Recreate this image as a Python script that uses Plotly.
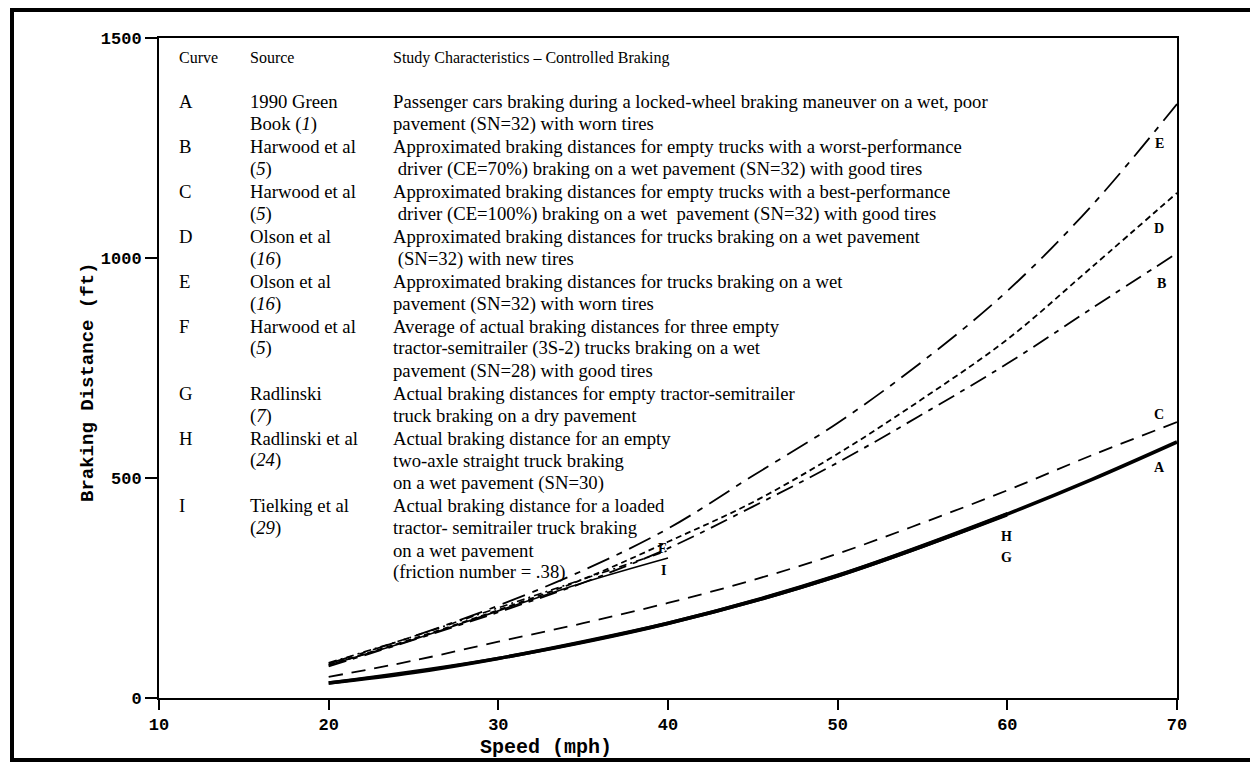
import plotly.graph_objects as go

# ---------------- data ----------------
speed_full = [20, 25, 30, 35, 40, 45, 50, 55, 60, 65, 70]
curve_A = [34, 58, 90, 128, 170, 220, 278, 345, 418, 497, 582]
curve_B = [72, 132, 195, 262, 340, 435, 535, 645, 760, 886, 1011]
curve_C = [48, 85, 128, 170, 216, 268, 328, 398, 472, 552, 627]
curve_D = [75, 135, 200, 270, 355, 445, 555, 680, 815, 980, 1148]
curve_E = [78, 140, 210, 290, 385, 505, 625, 765, 925, 1120, 1350]

speed_to40 = [20, 25, 30, 35, 40]
curve_F = [80, 140, 205, 270, 335]
curve_I = [75, 133, 198, 262, 318]

speed_to60 = [20, 30, 40, 50, 60]
curve_G = [32, 88, 167, 275, 414]
curve_H = [36, 92, 172, 281, 421]

x_ticks = [10, 20, 30, 40, 50, 60, 70]
y_ticks = [0, 500, 1000, 1500]

header = ("Curve", "Source", "Study Characteristics \u2013 Controlled Braking")
table_lines = [
    ("A", "1990 Green", "Passenger cars braking during a locked-wheel braking maneuver on a wet, poor"),
    ("", "Book (<i>1</i>)", "pavement (SN=32) with worn tires"),
    ("B", "Harwood et al", "Approximated braking distances for empty trucks with a worst-performance"),
    ("", "(<i>5</i>)", " driver (CE=70%) braking on a wet pavement (SN=32) with good tires"),
    ("C", "Harwood et al", "Approximated braking distances for empty trucks with a best-performance"),
    ("", "(<i>5</i>)", " driver (CE=100%) braking on a wet  pavement (SN=32) with good tires"),
    ("D", "Olson et al", "Approximated braking distances for trucks braking on a wet pavement"),
    ("", "(<i>16</i>)", " (SN=32) with new tires"),
    ("E", "Olson et al", "Approximated braking distances for trucks braking on a wet"),
    ("", "(<i>16</i>)", "pavement (SN=32) with worn tires"),
    ("F", "Harwood et al", "Average of actual braking distances for three empty"),
    ("", "(<i>5</i>)", "tractor-semitrailer (3S-2) trucks braking on a wet"),
    ("", "", "pavement (SN=28) with good tires"),
    ("G", "Radlinski", "Actual braking distances for empty tractor-semitrailer"),
    ("", "(<i>7</i>)", "truck braking on a dry pavement"),
    ("H", "Radlinski et al", "Actual braking distance for an empty"),
    ("", "(<i>24</i>)", "two-axle straight truck braking"),
    ("", "", "on a wet pavement (SN=30)"),
    ("I", "Tielking et al", "Actual braking distance for a loaded"),
    ("", "(<i>29</i>)", "tractor- semitrailer truck braking"),
    ("", "", "on a wet pavement"),
    ("", "", "(friction number = .38)"),
]

# ---------------- layout geometry ----------------
W, H = 1250, 768
L, R, T, B = 159, 1177, 38, 698


def px(x):
    return (x - L) / (R - L)


def py(y):
    return (B - y) / (B - T)


fig = go.Figure()

series = [
    ("G", speed_to60, curve_G, dict(color="black", width=1.6)),
    ("H", speed_to60, curve_H, dict(color="black", width=1.6)),
    ("A", speed_full, curve_A, dict(color="black", width=3.6)),
    ("C", speed_full, curve_C, dict(color="black", width=1.8, dash="14px,9px")),
    ("B", speed_full, curve_B, dict(color="black", width=1.8, dash="18px,7px,5px,7px")),
    ("D", speed_full, curve_D, dict(color="black", width=1.8, dash="6px,4px")),
    ("E", speed_full, curve_E, dict(color="black", width=1.8, dash="24px,8px,6px,8px")),
    ("F", speed_to40, curve_F, dict(color="black", width=1.6, dash="8px,4px,2px,4px")),
    ("I", speed_to40, curve_I, dict(color="black", width=1.6)),
]
for name, xs, ys, ln in series:
    fig.add_trace(go.Scatter(x=xs, y=ys, mode="lines", name=name,
                             line=dict(shape="spline", **ln), showlegend=False,
                             hoverinfo="x+y+name"))

serif = "Liberation Serif"
mono = "Liberation Mono"

annotations = []
# table header + rows
col_x = [177, 248, 391]
rows = [header] + [("", "", "")] + table_lines
for i, row in enumerate(rows):
    if i == 0:
        ypix = 58
        size = 16
    else:
        ypix = 102 + 22.4 * (i - 2)
        size = 18.7
    for cx, txt in zip(col_x, row):
        if not txt:
            continue
        annotations.append(dict(
            x=px(cx), y=py(ypix), xref="paper", yref="paper", text=txt,
            showarrow=False, xanchor="left", yanchor="middle",
            font=dict(family=serif, size=size, color="black")))

# curve end labels
curve_labels = [("E", 68.95, 1261), ("D", 68.95, 1068), ("B", 69.07, 941),
                ("C", 68.95, 645), ("A", 68.95, 523), ("H", 59.94, 366),
                ("G", 59.94, 320), ("F", 39.68, 339), ("I", 39.74, 289)]
for t, xv, yv in curve_labels:
    annotations.append(dict(x=xv, y=yv, xref="x", yref="y", text="<b>%s</b>" % t,
                            showarrow=False, xanchor="center", yanchor="middle",
                            font=dict(family=serif, size=14, color="black")))

# axis titles
annotations.append(dict(x=px(88), y=py(383), xref="paper", yref="paper",
                        text="<b>Braking Distance (ft)</b>", textangle=-90,
                        showarrow=False, xanchor="center", yanchor="middle",
                        font=dict(family=mono, size=19, color="black")))
annotations.append(dict(x=px(546), y=py(747), xref="paper", yref="paper",
                        text="<b>Speed (mph)</b>", showarrow=False,
                        xanchor="center", yanchor="middle",
                        font=dict(family=mono, size=20, color="black")))

shapes = [dict(type="rect", xref="paper", yref="paper",
               x0=px(12), x1=px(1262), y0=py(760), y1=py(10),
               line=dict(color="black", width=4), fillcolor="rgba(0,0,0,0)",
               layer="below")]

fig.update_layout(
    width=W, height=H,
    margin=dict(l=L, r=W - R, t=T, b=H - B, pad=0),
    paper_bgcolor="white", plot_bgcolor="white",
    annotations=annotations, shapes=shapes,
    font=dict(family=mono, color="black"),
)
fig.update_xaxes(range=[10, 70], tickvals=x_ticks, ticks="outside", ticklen=10,
                 tickwidth=2, tickcolor="black", showgrid=False, zeroline=False,
                 showline=True, linecolor="black", linewidth=2, mirror=True,
                 tickfont=dict(family=mono, size=17, color="black", weight="bold"))
fig.update_yaxes(range=[0, 1500], tickvals=y_ticks, ticks="outside", ticklen=12,
                 tickwidth=2, tickcolor="black", showgrid=False, zeroline=False,
                 showline=True, linecolor="black", linewidth=2, mirror=True,
                 tickfont=dict(family=mono, size=17, color="black", weight="bold"))

fig.write_html("out.html", config={"displayModeBar": False},
               post_script="document.body.style.margin='0';")
